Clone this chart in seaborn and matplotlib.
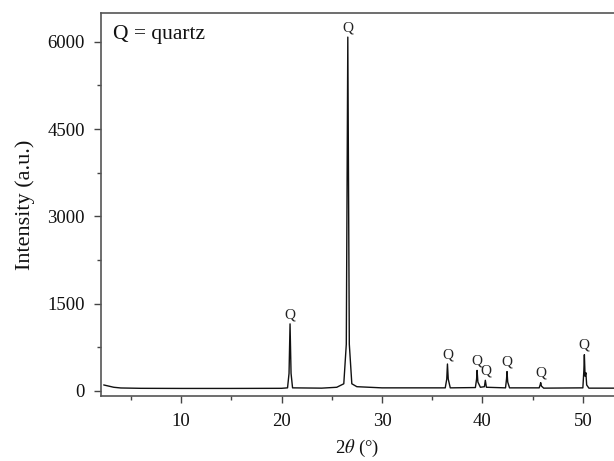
import matplotlib
matplotlib.use("Agg")
import matplotlib.pyplot as plt
from matplotlib.ticker import MultipleLocator
import seaborn as sns
import pandas as pd

# XRD pattern points (2theta, intensity)
two_theta = [2.3, 2.8, 3.3, 4.0, 6.0, 10.0, 15.0, 20.0, 20.6, 20.75, 20.85, 20.95, 21.1,
             24.0, 25.5, 26.2, 26.45, 26.6, 26.75, 27.0, 27.5, 30.0,
             36.3, 36.45, 36.52, 36.6, 36.8,
             39.3, 39.42, 39.47, 39.55, 39.8, 40.2, 40.29, 40.4,
             42.3, 42.4, 42.45, 42.52, 42.7,
             45.65, 45.75, 45.8, 45.88, 46.1,
             50.0, 50.1, 50.15, 50.22, 50.3, 50.38, 50.6, 53.2]
intensity = [100, 80, 60, 48, 42, 40, 40, 42, 50, 300, 1150, 300, 50,
             45, 60, 120, 800, 6080, 800, 120, 70, 50,
             50, 200, 460, 200, 50,
             55, 200, 350, 150, 60, 70, 180, 60,
             50, 200, 330, 150, 50,
             50, 100, 140, 80, 45,
             50, 350, 620, 250, 310, 100, 45, 45]

# Peak labels
peak_pos = [20.85, 26.6, 36.52, 39.47, 40.35, 42.45, 45.8, 50.15]
peak_top = [1150, 6080, 460, 350, 180, 330, 140, 620]
peak_label = ["Q"] * len(peak_pos)

xticks = [10, 20, 30, 40, 50]
yticks = [0, 1500, 3000, 4500, 6000]

sns.set_style("ticks")
plt.rcParams["font.family"] = ["Liberation Serif", "DejaVu Serif"]
plt.rcParams["mathtext.fontset"] = "stix"

fig = plt.figure(figsize=(6.14, 4.61), dpi=100)
ax = fig.add_axes([0.164, 0.141, 0.836, 0.8315])

df = pd.DataFrame({"two_theta": two_theta, "intensity": intensity})
sns.lineplot(data=df, x="two_theta", y="intensity", ax=ax, color="#111111",
             linewidth=1.0, sort=False, estimator=None)

for x, y, t in zip(peak_pos, peak_top, peak_label):
    ax.annotate(t, (x, y), xytext=(0, 2), textcoords="offset points",
                ha="center", va="bottom", fontsize=11, color="#222222")

ax.text(0.024, 0.944, "Q = quartz", transform=ax.transAxes, ha="left", va="center",
        fontsize=15.5, color="#111111")

ax.set_xlim(2, 53.1)
ax.set_ylim(-90, 6500)
ax.set_xticks(xticks)
ax.set_yticks(yticks)
ax.xaxis.set_minor_locator(MultipleLocator(5))
ax.yaxis.set_minor_locator(MultipleLocator(750))
ax.tick_params(which="major", length=5, width=1, color="#444444", labelsize=13.5,
               labelcolor="#111111")
ax.tick_params(axis="y", which="major", pad=6.5)
ax.tick_params(axis="x", which="major", pad=7)
ax.tick_params(which="minor", length=3, width=1, color="#444444")
ax.set_xlabel(r"2$\theta$ (°)", fontsize=13.5, color="#111111", labelpad=6)
ax.set_ylabel("Intensity (a.u.)", fontsize=16, color="#111111", labelpad=9)

for side in ["left", "bottom", "top"]:
    ax.spines[side].set_color("#555555")
    ax.spines[side].set_linewidth(1.2)
ax.spines["right"].set_visible(False)

fig.savefig("out.png", dpi=100)
